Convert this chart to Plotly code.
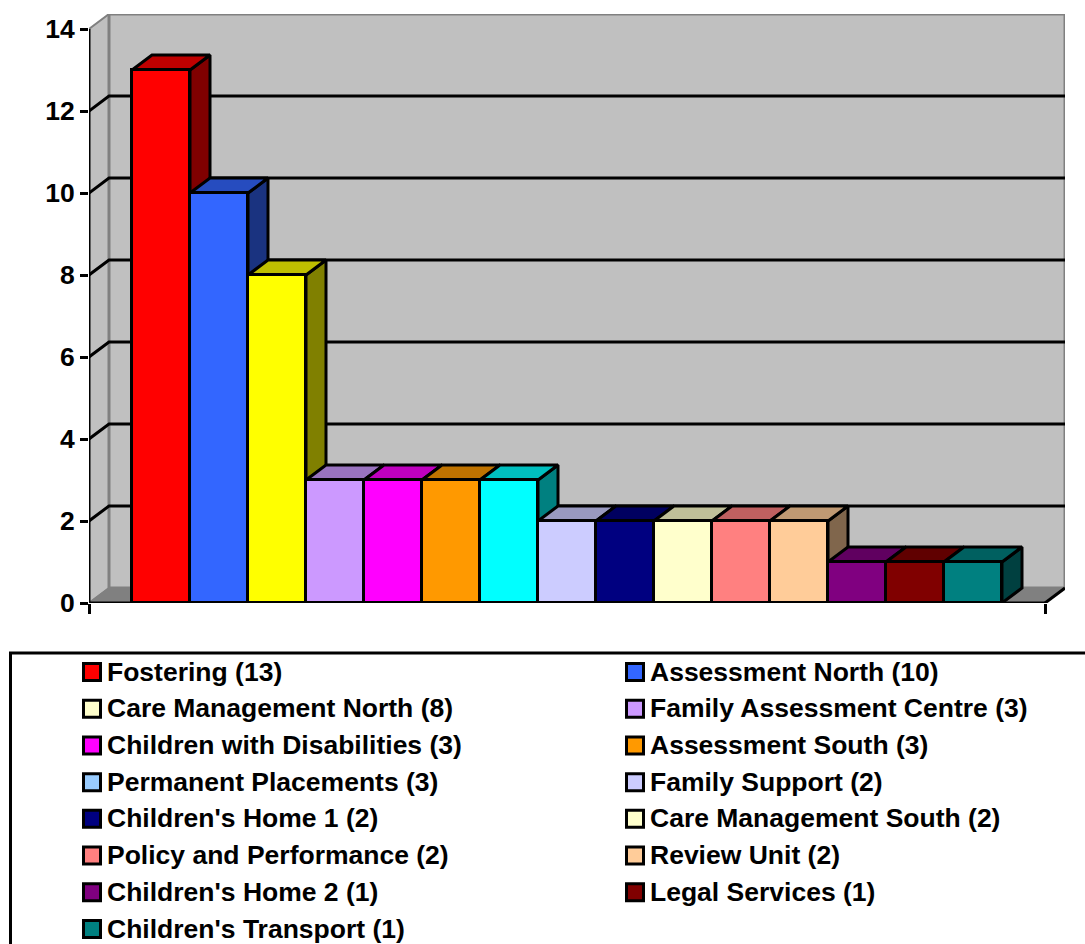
import plotly.graph_objects as go

# Staff counts per service, one bar each, in descending order
services = ["Fostering", "Assessment North", "Care Management North",
            "Family Assessment Centre", "Children with Disabilities",
            "Assessment South", "Permanent Placements", "Family Support",
            "Children's Home 1", "Care Management South",
            "Policy and Performance", "Review Unit", "Children's Home 2",
            "Legal Services", "Children's Transport"]
counts = [13, 10, 8, 3, 3, 3, 3, 2, 2, 2, 2, 2, 1, 1, 1]
bar_rgb = [(255, 0, 0), (51, 102, 255), (255, 255, 0), (204, 153, 255),
           (255, 0, 255), (255, 153, 0), (0, 255, 255), (204, 204, 255),
           (0, 0, 128), (255, 255, 204), (255, 128, 128), (255, 204, 153),
           (128, 0, 128), (128, 0, 0), (0, 128, 128)]
swatch_rgb = [(255, 0, 0), (51, 102, 255), (255, 255, 204), (204, 153, 255),
              (255, 0, 255), (255, 153, 0), (153, 204, 255), (204, 204, 255),
              (0, 0, 128), (255, 255, 204), (255, 128, 128), (255, 204, 153),
              (128, 0, 128), (128, 0, 0), (0, 128, 128)]
value_ticks = list(range(0, 15, 2))

W, H = 1085, 944
FONT = "Liberation Sans"
TEXT_SIZE = 26.5
INK = "#000000"
WALL = "#C0C0C0"
EDGE = "#808080"
STROKE = 3

# Pixel frame of the front plane and its shift to the back wall
PX_LEFT, PX_RIGHT, PX_BASE, PX_PER_VALUE = 89, 1045, 603, 41
PX_BAR = 58
PX_FIRST_BAR = 132
PX_DX, PX_DY = 20, 15
PX_TOP = PX_BASE - 14 * PX_PER_VALUE - PX_DY

# Data units: one bar is one x unit, y is the count
dx = PX_DX / PX_BAR
dy = PX_DY / PX_PER_VALUE
x_front0 = (PX_LEFT - PX_FIRST_BAR) / PX_BAR
x_front1 = (PX_RIGHT - PX_FIRST_BAR) / PX_BAR
y_max = max(value_ticks)


def rgb(c, k=1.0):
    return "rgb({},{},{})".format(*(round(v * k) for v in c))


def poly(xs, ys, fill, line=INK, width=STROKE):
    return go.Scatter(x=xs + xs[:1], y=ys + ys[:1], mode="lines", fill="toself",
                      fillcolor=fill, line=dict(color=line, width=width),
                      hoverinfo="skip", showlegend=False)


def seg(xs, ys, color=INK, width=STROKE):
    return go.Scatter(x=xs, y=ys, mode="lines", line=dict(color=color, width=width),
                      hoverinfo="skip", showlegend=False)


fig = go.Figure()

# Walls and floor of the box
fig.add_trace(poly([x_front0, x_front0 + dx, x_front0 + dx, x_front0],
                   [0, dy, y_max + dy, y_max], WALL, EDGE, 2))
fig.add_trace(poly([x_front0 + dx, x_front1 + dx, x_front1 + dx, x_front0 + dx],
                   [dy, dy, y_max + dy, y_max + dy], WALL, EDGE, 3))
fig.add_trace(poly([x_front0, x_front0 + dx, x_front1 + dx, x_front1],
                   [0, dy, dy, 0], EDGE, EDGE, 1.5))

# Gridlines wrap from the side wall onto the back wall
for v in value_ticks[1:-1]:
    fig.add_trace(seg([x_front0, x_front0 + dx, x_front1 + dx], [v, v + dy, v + dy]))
fig.add_trace(seg([x_front0, x_front0], [0, y_max]))
fig.add_trace(seg([x_front1, x_front1 + dx], [0, dy]))

# Side and top faces, left to right so each top covers the neighbour's side
for i, (v, c) in enumerate(zip(counts, bar_rgb)):
    fig.add_trace(poly([i + 1, i + 1 + dx, i + 1 + dx, i + 1],
                       [0, dy, v + dy, v], rgb(c, 0.5)))
    fig.add_trace(poly([i, i + 1, i + 1 + dx, i + dx],
                       [v, v, v + dy, v + dy], rgb(c, 0.75)))

# Front faces sit on an overlaid axis pair, above every side face
fig.add_trace(go.Bar(x=[i + 0.5 for i in range(len(counts))], y=counts, width=1,
                     marker=dict(color=[rgb(c) for c in bar_rgb],
                                 line=dict(color=INK, width=STROKE)),
                     customdata=services, showlegend=False,
                     xaxis="x2", yaxis="y2"))
fig.add_trace(go.Scatter(x=[x_front0, x_front1], y=[0, 0], mode="lines",
                         line=dict(color=INK, width=STROKE), hoverinfo="skip",
                         showlegend=False, xaxis="x2", yaxis="y2"))

# Key below the chart: two columns, filled row by row
ROW = 36.71
COLUMN = 543
key_x = [i % 2 for i in range(len(services))]
key_y = [i // 2 for i in range(len(services))]
fig.add_trace(go.Scatter(x=key_x, y=key_y, mode="markers",
                         marker=dict(symbol="square", size=17,
                                     color=[rgb(c) for c in swatch_rgb],
                                     line=dict(color=INK, width=3)),
                         hoverinfo="skip", showlegend=False,
                         xaxis="x3", yaxis="y3"))
fig.add_trace(go.Scatter(x=[k + 15 / COLUMN for k in key_x],
                         y=[r + 2 / ROW for r in key_y], mode="text",
                         text=[f"{s} ({n})" for s, n in zip(services, counts)],
                         textposition="middle right",
                         textfont=dict(family=FONT, size=TEXT_SIZE, weight=700, color=INK),
                         hoverinfo="skip", showlegend=False,
                         xaxis="x3", yaxis="y3"))

x_range = [(PX_LEFT - PX_FIRST_BAR) / PX_BAR, (PX_RIGHT + PX_DX - PX_FIRST_BAR) / PX_BAR]
y_range = [0, y_max + dy]
x_domain = [PX_LEFT / W, (PX_RIGHT + PX_DX) / W]
y_domain = [(H - PX_BASE) / H, (H - PX_TOP) / H]

KEY_TOP = 640
fig.update_layout(
    width=W, height=H, margin=dict(l=0, r=0, t=0, b=0),
    paper_bgcolor="white", plot_bgcolor="white",
    showlegend=False, bargap=0,
    font=dict(family=FONT, color=INK),
    xaxis=dict(domain=x_domain, range=x_range, showgrid=False, zeroline=False,
               automargin=False,
               tickmode="array", tickvals=[x_front0, x_front1], ticktext=["", ""],
               ticks="outside", ticklen=10, tickwidth=STROKE, tickcolor=INK),
    yaxis=dict(domain=y_domain, range=y_range, showgrid=False, zeroline=False,
               automargin=False,
               tickmode="array", tickvals=value_ticks, ticks="outside", ticklen=8,
               tickwidth=STROKE, tickcolor=INK,
               tickfont=dict(family=FONT, size=TEXT_SIZE, weight=700, color=INK)),
    xaxis2=dict(overlaying="x", range=x_range, visible=False, automargin=False),
    yaxis2=dict(overlaying="y", range=y_range, visible=False, automargin=False),
    xaxis3=dict(domain=[0, 1], anchor="y3", visible=False, automargin=False,
                range=[-92 / COLUMN, (W - 92) / COLUMN]),
    yaxis3=dict(domain=[0, (H - KEY_TOP) / H], anchor="x3", visible=False, automargin=False,
                range=[(H - 672) / ROW, (KEY_TOP - 672) / ROW]),
    shapes=[dict(type="rect", xref="paper", yref="paper", x0=10.5 / W, x1=1.02,
                 y0=-0.02, y1=(H - 653) / H, line=dict(color=INK, width=3),
                 fillcolor="rgba(0,0,0,0)", layer="below")],
)

fig.write_html("out.html")
